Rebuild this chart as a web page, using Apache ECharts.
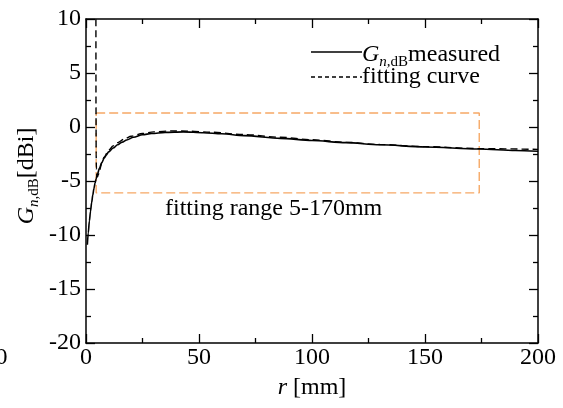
<!DOCTYPE html>
<html>
<head>
<meta charset="utf-8">
<script src="https://cdn.jsdelivr.net/npm/echarts@6/dist/echarts.min.js"></script>
<style>html,body{margin:0;padding:0;background:#fff}#c{width:563px;height:408px}</style>
</head>
<body>
<div id="c"></div>
<script>
// ---- data ----
var measuredR = [0.6, 1, 1.5, 2, 2.5, 3, 3.5, 4, 4.5, 5, 6, 7, 8, 9, 10, 12, 14, 16, 18, 21, 25, 29, 35, 43, 52, 60, 70, 86, 100, 115, 130, 150, 174, 190, 200];
var measuredG = [-10.9, -9.8, -8.7, -7.8, -7.0, -6.3, -5.7, -5.2, -4.8, -4.4, -3.8, -3.3, -2.9, -2.6, -2.3, -1.95, -1.65, -1.4, -1.2, -0.95, -0.72, -0.6, -0.5, -0.45, -0.53, -0.63, -0.8, -1.05, -1.25, -1.45, -1.65, -1.85, -2.04, -2.17, -2.25];
var fitR = [4.38, 4.42, 4.5, 4.6, 4.8, 5.1, 5.5, 6, 7, 8, 10, 12, 14, 17, 20, 25, 30, 38, 45, 55, 70, 86, 100, 115, 130, 150, 174, 200];
var fitG = [12, 2, -2.5, -3.8, -4.5, -4.6, -4.4, -4.0, -3.3, -2.8, -2.15, -1.75, -1.45, -1.1, -0.85, -0.6, -0.45, -0.36, -0.38, -0.48, -0.7, -0.95, -1.18, -1.42, -1.62, -1.82, -2.0, -2.07];
var boxR = [4.5, 174, 174, 4.5, 4.5];
var boxG = [1.3, 1.3, -6.1, -6.1, 1.3];
var xMin = 0, xMax = 200, xStep = 50;
var yMin = -20, yMax = 10, yStep = 5;
var rangeLabel = 'fitting range 5-170mm';
var legendFit = 'fitting curve';

function zip(a, b) { return a.map(function (v, i) { return [v, b[i]]; }); }

var FONT = '"Liberation Serif", "DejaVu Serif", serif';
var chart = echarts.init(document.getElementById('c'), null, {renderer: 'canvas'});

function axisCommon(extra) {
  var o = {
    axisLine: {show: true, onZero: false, lineStyle: {color: '#000', width: 1.5}},
    axisTick: {show: true, inside: true, length: 9, lineStyle: {color: '#000', width: 1.3}},
    minorTick: {show: true, splitNumber: 2, length: 5, lineStyle: {color: '#000', width: 1.3}},
    splitLine: {show: false},
    axisLabel: {show: false}
  };
  for (var k in extra) o[k] = extra[k];
  return o;
}

var sub = {fontFamily: FONT, fontSize: 15, fontStyle: 'italic', lineHeight: 15, verticalAlign: 'bottom', fill: '#000', color: '#000'};
var subR = {fontFamily: FONT, fontSize: 15, lineHeight: 15, verticalAlign: 'bottom', fill: '#000', color: '#000'};
var bigI = {fontFamily: FONT, fontSize: 24, fontStyle: 'italic', lineHeight: 30, fill: '#000', color: '#000'};
var big = {fontFamily: FONT, fontSize: 24, lineHeight: 30, fill: '#000', color: '#000'};

chart.setOption({
  animation: false,
  grid: {left: 86, right: 25, top: 19, bottom: 65},
  xAxis: [
    axisCommon({type: 'value', position: 'bottom', min: xMin, max: xMax, interval: xStep,
      axisLabel: {show: true, color: '#000', fontFamily: FONT, fontSize: 24, lineHeight: 24, margin: 3}}),
    axisCommon({type: 'value', position: 'top', min: xMin, max: xMax, interval: xStep})
  ],
  yAxis: [
    axisCommon({type: 'value', position: 'left', min: yMin, max: yMax, interval: yStep,
      axisLabel: {show: true, color: '#000', fontFamily: FONT, fontSize: 24, margin: 5}}),
    axisCommon({type: 'value', position: 'right', min: yMin, max: yMax, interval: yStep})
  ],
  series: [
    {type: 'line', name: 'box', data: zip(boxR, boxG), showSymbol: false, symbol: 'none', silent: true,
      lineStyle: {color: '#F6A865', width: 1.4, type: [9, 4]}, z: 1},
    {type: 'line', name: 'fit', data: zip(fitR, fitG), showSymbol: false, symbol: 'none',
      smooth: 0.3, smoothMonotone: 'x', clip: true,
      lineStyle: {color: '#000', width: 1.4, type: [7, 4]}, z: 3},
    {type: 'line', name: 'measured', data: zip(measuredR, measuredG), showSymbol: false, symbol: 'none',
      smooth: 0.3, smoothMonotone: 'x', clip: true,
      lineStyle: {color: '#000', width: 1.6}, z: 2}
  ],
  graphic: [
    // legend
    {type: 'line', shape: {x1: 311, y1: 52, x2: 362, y2: 52}, style: {stroke: '#000', lineWidth: 1.4}},
    {type: 'line', shape: {x1: 311, y1: 77, x2: 362, y2: 77}, style: {stroke: '#000', lineWidth: 1.4, lineDash: [4, 3]}},
    {type: 'text', x: 362, y: 55, style: {
      text: '{gi|G}{s|n,}{sr|dB}{g|measured}', align: 'left', verticalAlign: 'middle',
      rich: {gi: bigI, s: sub, sr: subR, g: big}}},
    {type: 'text', x: 362, y: 77, style: {
      text: legendFit, fontFamily: FONT, fontSize: 24, fill: '#000', align: 'left', verticalAlign: 'middle'}},
    // annotation
    {type: 'text', x: 165, y: 209, style: {
      text: rangeLabel, fontFamily: FONT, fontSize: 24, fill: '#000', align: 'left', verticalAlign: 'middle'}},
    // y axis title
    {type: 'text', x: 27, y: 176, rotation: Math.PI / 2, style: {
      text: '{gi|G}{s|n,}{sr|dB}{g|[dBi]}', align: 'center', verticalAlign: 'middle',
      rich: {gi: bigI, s: sub, sr: subR, g: big}}},
    // x axis title
    {type: 'text', x: 312, y: 388, style: {
      text: '{gi|r}{g| [mm]}', align: 'center', verticalAlign: 'middle',
      rich: {gi: bigI, g: big}}},
    // clipped tick label of a neighbouring panel
    {type: 'text', x: 7.5, y: 358, style: {
      text: '0', fontFamily: FONT, fontSize: 24, fill: '#000', align: 'right', verticalAlign: 'middle'}}
  ]
});
</script>
</body>
</html>
